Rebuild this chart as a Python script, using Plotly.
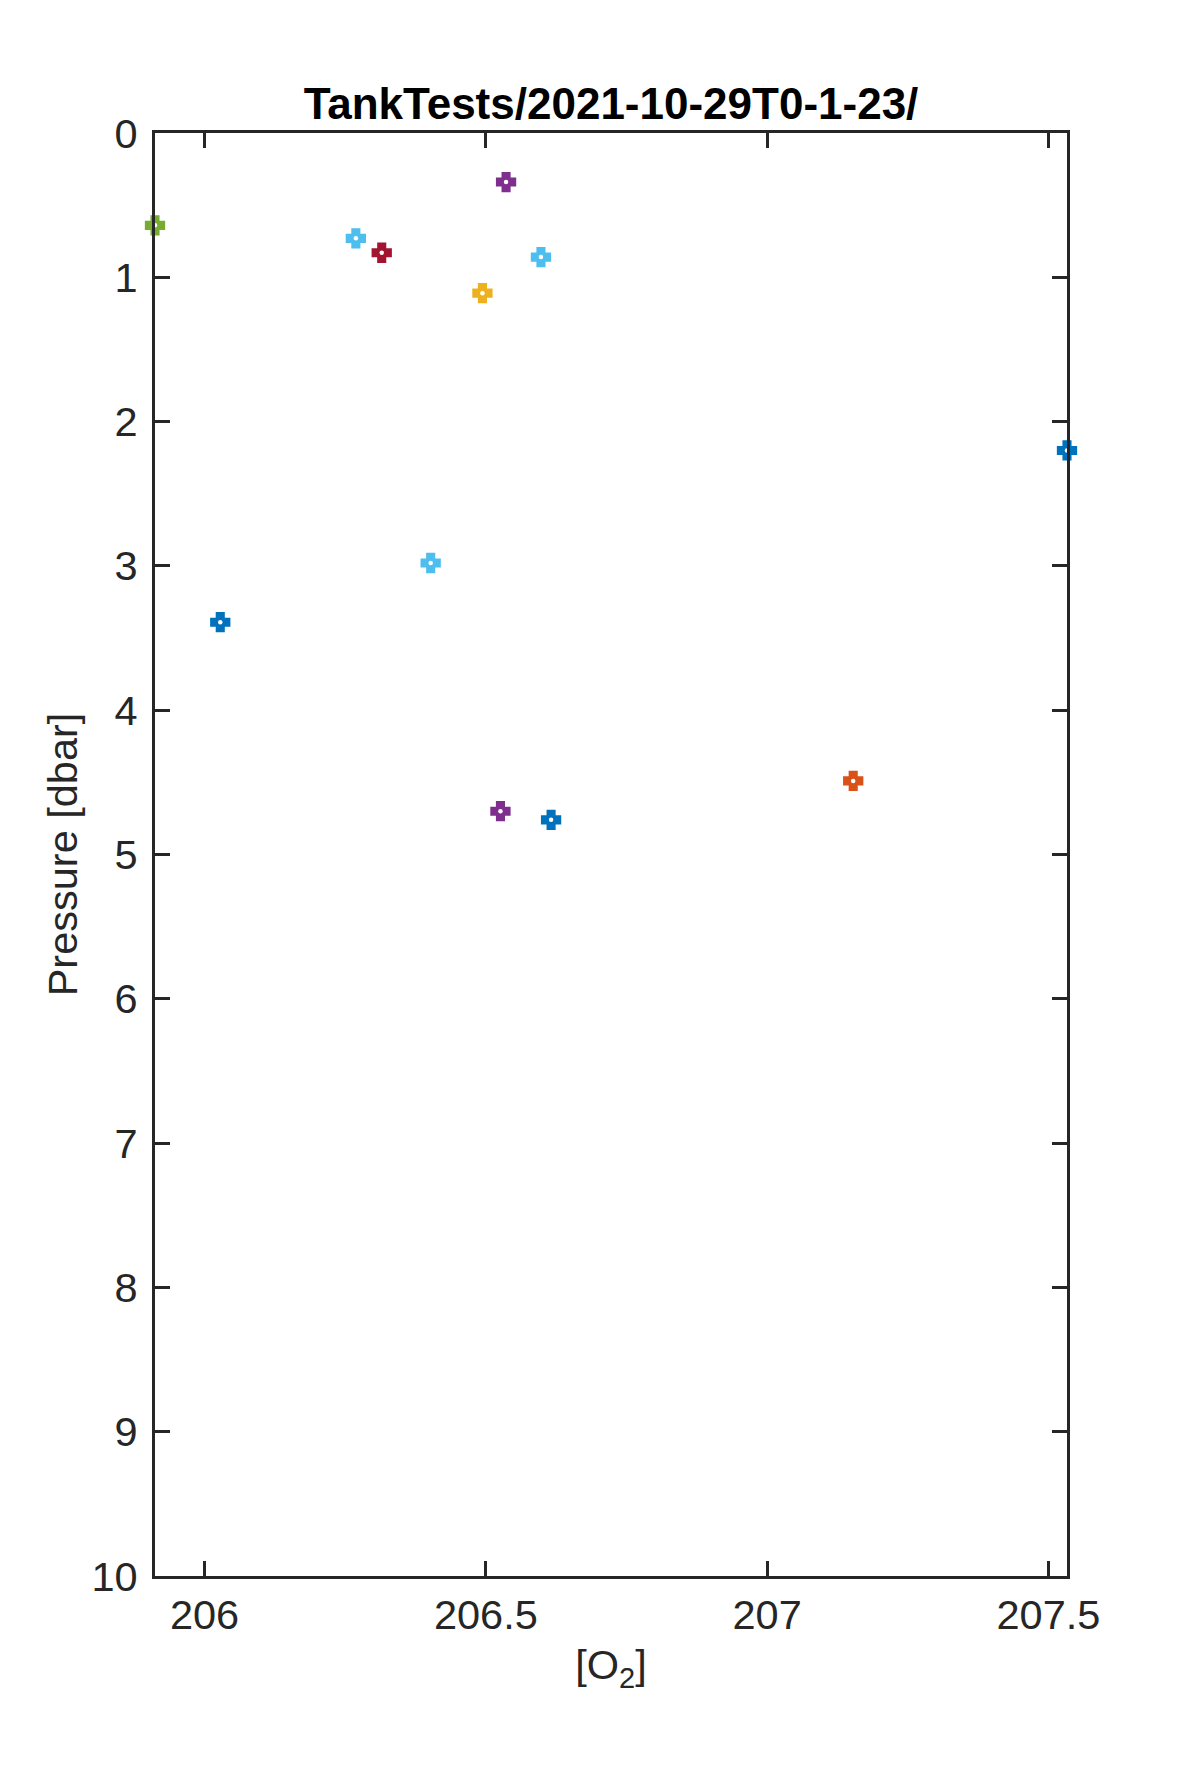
import plotly.graph_objects as go

# one marker per cast, colours follow the MATLAB default order
oxygen = [205.912, 206.269, 206.315, 206.536, 206.494, 206.598,
          207.533, 206.402, 206.028, 207.153, 206.526, 206.616]
pressure = [0.64, 0.73, 0.83, 0.34, 1.11, 0.86,
            2.20, 2.98, 3.39, 4.49, 4.70, 4.76]
colours = ["#77AC30", "#4DBEEE", "#A2142F", "#7E2F8E", "#EDB120", "#4DBEEE",
           "#0072BD", "#4DBEEE", "#0072BD", "#D95319", "#7E2F8E", "#0072BD"]

x_ticks = [206, 206.5, 207, 207.5]
x_ticklabels = ["206", "206.5", "207", "207.5"]
y_ticks = list(range(0, 11))

title = "TankTests/2021-10-29T0-1-23/"

axcol = "#262626"
font = "Liberation Sans, Arial, Helvetica, sans-serif"

fig = go.Figure()

fig.add_trace(go.Scatter(
    x=oxygen, y=pressure, mode="markers", cliponaxis=False,
    marker=dict(symbol="cross", size=14, color=colours,
                line=dict(width=3.5, color=colours)),
    showlegend=False))
# white dot in the middle of each marker
fig.add_trace(go.Scatter(
    x=oxygen, y=pressure, mode="markers", cliponaxis=False,
    marker=dict(symbol="circle", size=4.5, color="white", line=dict(width=0)),
    showlegend=False))

axis = dict(showline=True, linecolor=axcol, linewidth=3, mirror="ticks",
            ticks="inside", ticklen=15, tickwidth=3, tickcolor=axcol,
            showgrid=False, zeroline=False,
            tickfont=dict(family=font, size=41.5, color=axcol))

fig.update_xaxes(axis, range=[205.912, 207.533], tickvals=x_ticks,
                 ticktext=x_ticklabels,
                 title=dict(text="[O<sub>2</sub>]", standoff=14,
                            font=dict(family=font, size=41.5, color=axcol)))
fig.update_yaxes(axis, range=[10, 0], tickvals=y_ticks,
                 ticklabelstandoff=6,
                 title=dict(text="Pressure [dbar]", standoff=2,
                            font=dict(family=font, size=41.5, color=axcol)))

fig.update_layout(
    width=1173, height=1763,
    margin=dict(l=147, r=114, t=125, b=195),
    paper_bgcolor="white", plot_bgcolor="white",
    title=dict(text="<b>" + title + "</b>", x=0.5, xanchor="center",
               xref="paper", y=1 - 96 / 1763, yanchor="middle",
               font=dict(family=font, size=44, color="black")),
)

fig.write_html("out.html")
